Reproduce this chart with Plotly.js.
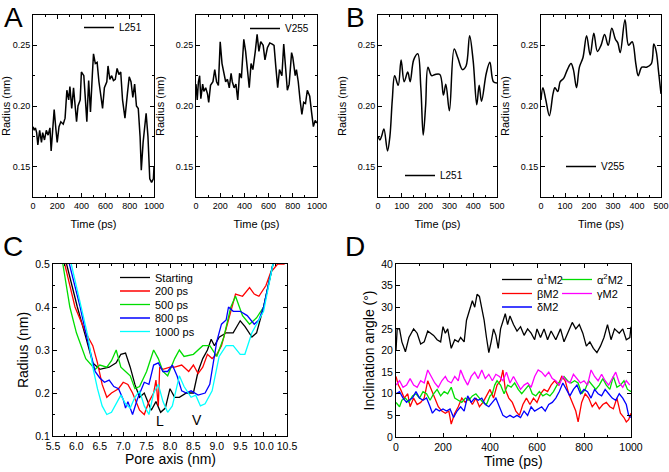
<!DOCTYPE html>
<html>
<head>
<meta charset="utf-8">
<script src="https://cdn.plot.ly/plotly-3.0.1.min.js"></script>
<style>html,body{margin:0;padding:0;background:#fff;}#chart{width:669px;height:472px;}</style>
</head>
<body>
<div id="chart"></div>
<script>
// ---------- Panel A (0-1000 ps) ----------
const aTimeL251 = [0,10,20,30,40,55,70,80,95,110,125,140,150,165,175,190,200,215,230,250,265,280,295,305,320,335,350,360,372,390,400,420,430,445,460,475,490,500,515,530,545,560,575,590,610,620,635,650,665,680,695,710,725,740,760,780,795,810,825,840,855,870,885,895,910,935,950,965,980,995,1000];
const aL251 = [0.183,0.180,0.182,0.178,0.168,0.180,0.170,0.178,0.172,0.180,0.176,0.182,0.163,0.185,0.197,0.180,0.170,0.183,0.187,0.185,0.190,0.213,0.205,0.216,0.198,0.215,0.200,0.187,0.200,0.205,0.228,0.225,0.210,0.187,0.221,0.195,0.225,0.243,0.235,0.236,0.220,0.210,0.198,0.215,0.220,0.233,0.222,0.225,0.221,0.222,0.231,0.226,0.228,0.205,0.190,0.210,0.224,0.220,0.207,0.218,0.200,0.198,0.175,0.147,0.170,0.194,0.175,0.140,0.137,0.140,0.150];
const aTimeV255 = [0,10,20,30,40,55,65,80,95,105,120,140,155,170,185,200,215,230,245,260,275,290,300,315,330,345,360,375,395,410,430,440,455,470,490,505,520,535,555,570,590,610,630,645,660,675,690,710,725,740,755,770,790,800,820,830,845,860,875,890,905,920,940,955,970,985,1000];
const aV255 = [0.218,0.205,0.220,0.225,0.206,0.218,0.212,0.215,0.210,0.203,0.217,0.220,0.230,0.220,0.217,0.253,0.235,0.228,0.220,0.222,0.215,0.227,0.220,0.215,0.218,0.205,0.227,0.223,0.255,0.245,0.225,0.215,0.235,0.230,0.245,0.259,0.245,0.253,0.250,0.238,0.248,0.252,0.251,0.250,0.232,0.215,0.230,0.225,0.251,0.228,0.213,0.218,0.244,0.240,0.225,0.230,0.220,0.205,0.193,0.203,0.202,0.213,0.208,0.195,0.183,0.188,0.186];

// ---------- Panel B (0-500 ps) ----------
const bTimeL251 = [0,8,15,25,40,50,60,70,85,97,110,125,135,150,167,180,190,200,210,225,240,260,275,285,300,320,335,355,370,385,400,415,425,435,455,470,485,500];
const bL251 = [0.175,0.172,0.175,0.181,0.163,0.175,0.205,0.225,0.217,0.238,0.220,0.228,0.220,0.238,0.243,0.215,0.176,0.200,0.232,0.225,0.226,0.226,0.209,0.218,0.196,0.247,0.240,0.230,0.233,0.258,0.237,0.201,0.217,0.204,0.227,0.236,0.220,0.219];
const bTimeV255 = [0,8,20,35,50,58,70,80,95,110,125,135,148,160,175,190,205,220,235,250,265,280,295,310,320,330,350,365,380,395,405,420,440,460,470,480,490,500];
const bV255 = [0.205,0.215,0.205,0.192,0.210,0.215,0.212,0.220,0.223,0.230,0.235,0.230,0.215,0.232,0.240,0.258,0.242,0.260,0.245,0.250,0.259,0.250,0.264,0.255,0.252,0.244,0.271,0.250,0.253,0.235,0.225,0.232,0.232,0.235,0.251,0.245,0.228,0.210];

// ---------- Panel C (pore radius profiles) ----------
const cNames = ["Starting","200 ps","500 ps","800 ps","1000 ps"];
const cStartX = [5.79,6.02,6.2,6.35,6.5,6.7,6.85,6.95,7.05,7.15,7.25,7.35,7.45,7.55,7.6,7.7,7.8,7.9,8.0,8.1,8.2,8.35,8.5,8.6,8.7,8.8,8.88,8.95,9.05,9.2,9.35,9.5,9.6,9.75,9.85,10.0,10.2];
const cStartY = [0.5,0.40,0.33,0.27,0.255,0.26,0.27,0.29,0.293,0.26,0.22,0.19,0.2,0.17,0.16,0.18,0.155,0.165,0.21,0.19,0.19,0.2,0.2,0.25,0.28,0.30,0.325,0.31,0.33,0.34,0.34,0.368,0.355,0.33,0.34,0.40,0.5];
const c200X = [5.75,5.97,6.2,6.35,6.45,6.55,6.65,6.75,6.9,7.0,7.1,7.2,7.35,7.45,7.55,7.65,7.7,7.75,7.78,7.85,8.0,8.1,8.25,8.4,8.5,8.6,8.7,8.8,8.9,9.0,9.1,9.25,9.4,9.55,9.7,9.8,9.9,10.05,10.15,10.3,10.45];
const c200Y = [0.5,0.40,0.34,0.31,0.27,0.22,0.19,0.2,0.21,0.225,0.22,0.2,0.16,0.15,0.18,0.2,0.23,0.17,0.26,0.255,0.26,0.26,0.265,0.25,0.265,0.245,0.26,0.29,0.28,0.29,0.31,0.37,0.43,0.425,0.445,0.43,0.425,0.45,0.48,0.5,0.5];
const c500X = [5.71,5.86,6.0,6.2,6.4,6.5,6.65,6.75,6.85,6.95,7.05,7.15,7.25,7.35,7.5,7.65,7.75,7.85,7.95,8.1,8.2,8.3,8.5,8.7,8.85,9.0,9.15,9.3,9.4,9.55,9.7,9.85,10.0,10.2];
const c500Y = [0.5,0.40,0.34,0.28,0.255,0.265,0.26,0.275,0.30,0.26,0.25,0.24,0.21,0.215,0.25,0.30,0.28,0.25,0.24,0.28,0.30,0.285,0.29,0.31,0.31,0.285,0.33,0.40,0.425,0.38,0.36,0.375,0.40,0.5];
const c800X = [5.85,6.08,6.2,6.4,6.5,6.6,6.7,6.8,6.9,7.0,7.05,7.1,7.2,7.3,7.45,7.55,7.65,7.75,7.85,7.95,8.05,8.15,8.25,8.35,8.45,8.6,8.75,8.85,9.0,9.1,9.2,9.25,9.35,9.5,9.65,9.8,9.9,10.0,10.2];
const c800Y = [0.5,0.40,0.34,0.25,0.235,0.225,0.23,0.215,0.21,0.185,0.165,0.18,0.15,0.185,0.225,0.22,0.265,0.27,0.25,0.25,0.265,0.24,0.205,0.2,0.205,0.195,0.2,0.22,0.32,0.36,0.37,0.40,0.39,0.39,0.38,0.36,0.37,0.40,0.5];
const c1000X = [5.89,6.11,6.25,6.35,6.45,6.55,6.65,6.75,6.85,6.95,7.05,7.15,7.25,7.35,7.45,7.55,7.65,7.75,7.85,7.95,8.05,8.2,8.3,8.45,8.55,8.65,8.75,8.9,9.05,9.2,9.35,9.5,9.6,9.75,9.85,10.0,10.2];
const c1000Y = [0.5,0.40,0.33,0.26,0.21,0.17,0.15,0.155,0.175,0.195,0.175,0.165,0.19,0.205,0.17,0.15,0.2,0.22,0.18,0.155,0.17,0.24,0.215,0.19,0.195,0.17,0.175,0.205,0.285,0.31,0.31,0.29,0.29,0.34,0.36,0.39,0.5];
const cColors = ["#000000","#ff0000","#00dd00","#0000ff","#00ffff"];

// ---------- Panel D (inclination angles) ----------
const dTimeA1 = [0,5,15,25,40,55,75,90,105,120,135,160,175,190,200,210,220,235,250,265,275,290,300,315,325,335,345,355,365,375,385,395,405,415,425,435,445,455,465,475,485,500,515,530,545,560,575,590,600,615,630,645,660,680,700,715,735,750,765,780,795,810,825,840,855,870,885,900,915,930,950,965,980,995,1000];
const dA1 = [20,25,25,22,19.7,23,25,24,21.5,22,24.5,23.5,22.5,22,25.5,24,25,20.5,22.5,22,23,22,27,30,31.5,30,33,32.5,30,27,23,19.5,22,25,23.5,20.5,25,27,28.5,26,28,26,24.5,25.5,23.5,25,24,22.5,25,23,25,22.5,24.5,22.5,25,22,24.5,26.5,25,26,24,21,22,20.5,19.5,21,23,26,22.5,25,24,25,22.5,23,25.5];
const dTimeB = [0,10,20,35,50,60,75,90,105,120,135,150,165,180,195,210,225,235,250,265,280,295,310,325,340,355,370,385,400,415,430,445,455,465,480,495,510,525,540,555,570,585,600,615,630,645,660,675,690,705,720,735,750,765,775,790,805,820,835,850,865,880,895,910,925,940,955,970,980,990,1000];
const dB = [14,12,11,9,10,7,9,7.5,8,9,13,11,9,7,6,5.5,6,3,5.5,7,9,8,9,7.5,9,7,8,9.5,11,9,12,13,15.5,11,9,8,6,5,7.5,9,7.5,9,8,10,11,10.5,12,13,12,14,13,10,8,6,3.5,8,10,9,7,8,6.5,7.5,8,7,6.5,9,5.5,4.5,3.5,4,5.5];
const dTimeA2 = [0,15,25,40,55,70,85,100,115,130,145,160,175,190,205,220,235,250,265,280,295,310,325,340,355,370,385,400,410,420,430,445,460,475,490,505,520,535,550,565,580,595,610,625,640,655,670,685,700,715,730,745,760,775,790,805,820,835,850,865,880,895,910,925,940,955,970,985,1000];
const dA2 = [8,7,8.5,9,8,9.5,10,9,10.5,10,8.5,10,11,9.5,10.5,10,11.5,9,8.5,8,9,8.5,9.5,10,9,8,7.5,9.5,10,12,13,12,10,12,11.5,12.5,11,10,11,12,10,9.5,10.5,9.5,10,9.5,10.5,12,13,14,13,12.5,13,12.5,10,11,13,12,11,12,13.5,12,11,14,11.5,12,13,11,10.5];
const dTimeG = [0,15,30,45,60,75,90,105,120,135,150,165,180,195,210,220,235,250,265,275,290,305,320,335,350,365,380,395,410,425,440,455,470,485,500,515,530,545,560,575,590,605,620,635,650,665,680,695,710,725,740,755,770,785,800,815,830,845,860,875,890,905,920,935,950,965,980,995];
const dG = [12,13,11.5,12,13.5,12,11.5,13,12.5,15.5,14,12.5,11.5,13,14,13,12.5,14,13,15.5,13.5,12,14,15,13.5,15.5,13.5,14.5,13,14.5,14,13,15,12.5,14,12.5,11,12,12.5,11.5,14,15.5,15,14,15,13.5,13,12,14,13,12.5,14.5,13.5,12.5,13,12,15.5,14,13,14.5,13,12,13.5,15,12.5,11.5,13,12];
const dTimeD = [0,15,30,45,55,70,85,100,115,130,145,155,170,185,200,215,230,245,260,275,290,305,320,335,350,365,380,395,410,425,440,455,470,485,500,515,530,545,560,575,590,605,620,635,650,665,680,695,710,725,740,755,770,785,800,815,830,845,860,875,890,905,920,935,950,965,980,990,1000];
const dD = [10,10.5,9,8,8.5,9,10.5,9,8.5,9,7,5.5,6.5,6,6.5,6,6.5,4.5,6,7,6,9.5,8,9,8.5,9,7.5,7,8,9,7,5,4.5,5,4.5,5,4.5,6,5,7,6,6.5,7,6,7.5,8,9,10.5,12.5,11,9.5,11,12,10,11,10.5,9,11,10,9.5,11,10,9,8.5,10,9,7.5,5,4.5];

const FONT = "Liberation Sans, Arial, sans-serif";
const W = 669, H = 472;
function px(a){return a / W;}
function py(a){return 1 - a / H;}

const traces = [];
function line(x, y, xa, ya, name, color, legend, width, shape) {
  traces.push({x: x, y: y, xaxis: xa, yaxis: ya, type: 'scatter', mode: 'lines', name: name,
    line: {color: color, width: width || 1.3, shape: shape || 'linear'}, legend: legend,
    showlegend: true});
}
line(aTimeL251, aL251, 'x', 'y', 'L251', '#000', 'legend', 1.5);
line(aTimeV255, aV255, 'x2', 'y2', 'V255', '#000', 'legend2', 1.5);
line(bTimeL251, bL251, 'x3', 'y3', 'L251', '#000', 'legend3', 1.5, 'spline');
line(bTimeV255, bV255, 'x4', 'y4', 'V255', '#000', 'legend4', 1.5, 'spline');
const cX = [cStartX, c200X, c500X, c800X, c1000X];
const cY = [cStartY, c200Y, c500Y, c800Y, c1000Y];
for (let i = 0; i < 5; i++) line(cX[i], cY[i], 'x5', 'y5', cNames[i], cColors[i], 'legend' + (5 + i), 1.3);
line(dTimeA1, dA1, 'x6', 'y6', 'α<sup>1</sup>M2', '#000000', 'legend10', 1.3);
line(dTimeB, dB, 'x6', 'y6', 'βM2', '#ff0000', 'legend11', 1.3);
line(dTimeA2, dA2, 'x6', 'y6', 'α<sup>2</sup>M2', '#00dd00', 'legend12', 1.3);
line(dTimeG, dG, 'x6', 'y6', 'γM2', '#ff00ff', 'legend13', 1.3);
line(dTimeD, dD, 'x6', 'y6', 'δM2', '#0000ff', 'legend14', 1.3);

function ax(domain, range, dtick, minor, tfs, title, tsize, fmt, anchor, standoff) {
  const a = {domain: domain, range: range, dtick: dtick, tick0: range[0],
    showline: true, linecolor: '#000', linewidth: 1, mirror: 'allticks', ticks: 'inside', ticklen: 4,
    tickcolor: '#000', tickwidth: 1, showgrid: false, zeroline: false, anchor: anchor,
    tickfont: {size: tfs, family: FONT, color: '#000'}, tickformat: fmt || '',
    minor: {dtick: minor, ticks: 'inside', ticklen: 2, tickcolor: '#000', showgrid: false},
    title: {text: title, font: {size: tsize, family: FONT, color: '#000'}}};
  if (standoff !== undefined) a.title.standoff = standoff;
  return a;
}
const yA = [py(197), py(15)];
const yRange = [0.125, 0.275];
function yAB(anchor) {
  const a = ax(yA, yRange, 0.05, 0.025, 9, 'Radius (nm)', 11, '.2f', anchor);
  a.tick0 = 0.15; return a;
}
const big = {size: 28, family: FONT, color: '#000'};
const layout = {
  width: W, height: H, margin: {l: 0, r: 0, t: 0, b: 0},
  paper_bgcolor: '#fff', plot_bgcolor: '#fff', font: {family: FONT, color: '#000'},
  xaxis: ax([px(33), px(154)], [0, 1000], 200, 100, 9, 'Time (ps)', 11, '', 'y', 10),
  yaxis: yAB('x'),
  xaxis2: ax([px(196), px(317)], [0, 1000], 200, 100, 9, 'Time (ps)', 11, '', 'y2', 10),
  yaxis2: yAB('x2'),
  xaxis3: ax([px(378), px(497)], [0, 500], 100, 50, 9, 'Time (ps)', 11, '', 'y3', 10),
  yaxis3: yAB('x3'),
  xaxis4: ax([px(541), px(661)], [0, 500], 100, 50, 9, 'Time (ps)', 11, '', 'y4', 10),
  yaxis4: yAB('x4'),
  xaxis5: ax([px(53), px(287)], [5.5, 10.5], 0.5, 0.25, 10.5, '', 14, '.1f', 'y5'),
  yaxis5: ax([py(436), py(264)], [0.1, 0.5], 0.1, 0.05, 10.5, 'Radius (nm)', 14, '.1f', 'x5', 3),
  xaxis6: ax([px(396), px(631)], [0, 1000], 200, 100, 10.5, '', 14, '', 'y6'),
  yaxis6: ax([py(437), py(264)], [0, 40], 5, 5, 10.5, 'Inclination angle (°)', 14, '', 'x6', 3),
  annotations: [
    {text: 'A', x: px(2), y: py(0), xref: 'paper', yref: 'paper', xanchor: 'left', yanchor: 'top', showarrow: false, font: big},
    {text: 'B', x: px(344), y: py(0), xref: 'paper', yref: 'paper', xanchor: 'left', yanchor: 'top', showarrow: false, font: big},
    {text: 'C', x: px(1), y: py(229), xref: 'paper', yref: 'paper', xanchor: 'left', yanchor: 'top', showarrow: false, font: big},
    {text: 'D', x: px(343), y: py(229), xref: 'paper', yref: 'paper', xanchor: 'left', yanchor: 'top', showarrow: false, font: big},
    {text: 'Pore axis (nm)', x: px(170), y: py(459), xref: 'paper', yref: 'paper', xanchor: 'center', yanchor: 'middle', showarrow: false, font: {size: 14, family: FONT, color: '#000'}},
    {text: 'Time (ps)', x: px(513), y: py(461), xref: 'paper', yref: 'paper', xanchor: 'center', yanchor: 'middle', showarrow: false, font: {size: 14, family: FONT, color: '#000'}},
    {text: 'L', x: 7.78, y: 0.135, xref: 'x5', yref: 'y5', showarrow: false, font: {size: 14, family: FONT, color: '#000'}},
    {text: 'V', x: 8.57, y: 0.138, xref: 'x5', yref: 'y5', showarrow: false, font: {size: 14, family: FONT, color: '#000'}}
  ]
};
function leg(x, y, size) {
  return {x: px(x), y: py(y), xanchor: 'left', yanchor: 'top', bgcolor: 'rgba(0,0,0,0)', borderwidth: 0,
    font: {size: size, family: FONT, color: '#000'}, tracegroupgap: 0, itemwidth: 30};
}
layout.legend = leg(79, 13, 10);
layout.legend2 = leg(245, 14, 10);
layout.legend3 = leg(400, 161, 10);
layout.legend4 = leg(561, 152, 10);
// Panel C: one legend per row so rows sit at the reference spacing
const cRowTop = [263, 276.5, 290, 303.5, 317];
for (let i = 0; i < 5; i++) layout['legend' + (5 + i)] = leg(115, cRowTop[i], 11);
// Panel D: two columns, three rows
layout.legend10 = leg(497, 265, 11);
layout.legend11 = leg(497, 279, 11);
layout.legend14 = leg(497, 292.5, 11);
layout.legend12 = leg(557, 265, 11);
layout.legend13 = leg(557, 279, 11);

Plotly.newPlot('chart', traces, layout, {displayModeBar: false, staticPlot: true});
</script>
</body>
</html>
